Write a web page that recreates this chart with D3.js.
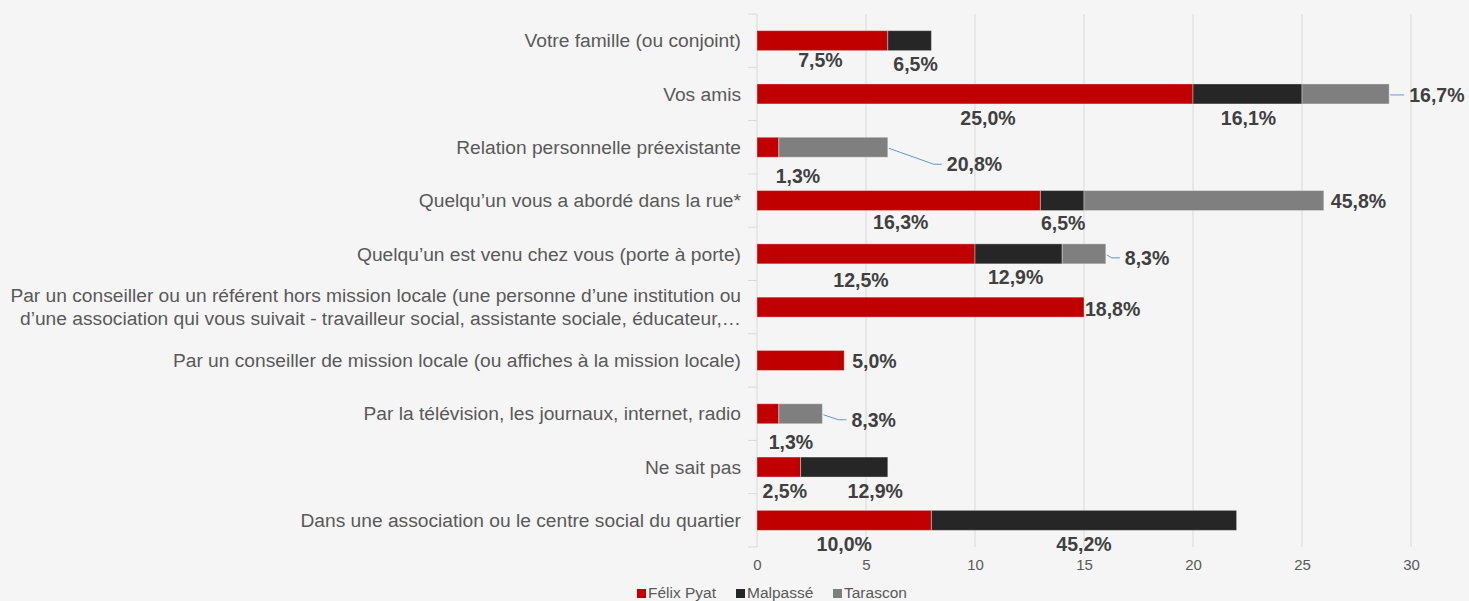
<!DOCTYPE html>
<html>
<head>
<meta charset="utf-8">
<script src="https://cdn.jsdelivr.net/npm/d3@7"></script>
<style>
  body { margin: 0; background: #f5f5f5; }
  svg { display: block; font-family: "Liberation Sans", Arial, sans-serif; }
</style>
</head>
<body>
<div id="chart"></div>
<script>
// data (counts on x axis, labels are % of each district)
var categories = [
    "Votre famille (ou conjoint)",
    "Vos amis",
    "Relation personnelle préexistante",
    "Quelqu’un vous a abordé dans la rue*",
    "Quelqu’un est venu chez vous (porte à porte)",
    "Par un conseiller ou un référent hors mission locale (une personne d’une institution ou|d’une association qui vous suivait - travailleur social, assistante sociale, éducateur,…",
    "Par un conseiller de mission locale (ou affiches à la mission locale)",
    "Par la télévision, les journaux, internet, radio",
    "Ne sait pas",
    "Dans une association ou le centre social du quartier"
];
var seriesNames = ["Félix Pyat", "Malpassé", "Tarascon"];
var felixPyat = [6, 20, 1, 13, 10, 15, 4, 1, 2, 8];
var malpasse  = [2, 5, 0, 2, 4, 0, 0, 0, 4, 14];
var tarascon  = [0, 4, 5, 11, 2, 0, 0, 2, 0, 0];
var felixPct    = ["7,5%", "25,0%", "1,3%", "16,3%", "12,5%", "18,8%", "5,0%", "1,3%", "2,5%", "10,0%"];
var malpassePct = ["6,5%", "16,1%", "", "6,5%", "12,9%", "", "", "", "12,9%", "45,2%"];
var tarasconPct = ["", "16,7%", "20,8%", "45,8%", "8,3%", "", "", "8,3%", "", ""];
var xTicks = [0, 5, 10, 15, 20, 25, 30];

var colors = ["#c00000", "#262626", "#7f7f7f"];

// label placement: [row, series, mode, dx, dy]
// "c" = relative to segment centre, "e" = right of bar end, "l" = leader line
var labelLayout = [
    [0, 0, "c", -2, 20], [0, 1, "c", 6, 24],
    [1, 0, "c", 13, 24], [1, 1, "c", 1, 24], [1, 2, "l", 20, 1],
    [2, 0, "c", 30, 29], [2, 2, "l", 59, 17],
    [3, 0, "c", 2, 22], [3, 1, "c", 1, 23], [3, 2, "e", 7, 1],
    [4, 0, "c", -5, 26], [4, 1, "c", -3, 23], [4, 2, "l", 19, 4],
    [5, 0, "e", 1, 2],
    [6, 0, "e", 8, 1],
    [7, 0, "c", 23, 28], [7, 2, "l", 29, 6],
    [8, 0, "c", 6, 24], [8, 1, "c", 31, 24],
    [9, 0, "c", 0, 24], [9, 1, "c", 0, 24]
];

var width = 1469;
var height = 601;
var plotLeft = 757, plotRight = 1411, plotTop = 14, plotBottom = 547;

var svg = d3.select("#chart")
    .append("svg")
    .attr("width", width)
    .attr("height", height);

var x = d3.scaleLinear().domain([0, 30]).range([plotLeft, plotRight]);
var y = d3.scaleBand().domain(d3.range(categories.length))
    .range([plotTop, plotBottom])
    .paddingInner(0.625)
    .paddingOuter(0.3125);
var step = y.step();

// gridlines
svg.append("g").selectAll("line")
    .data(xTicks.slice(1))
    .enter()
    .append("line")
    .attr("x1", function (d) { return x(d); })
    .attr("x2", function (d) { return x(d); })
    .attr("y1", plotTop)
    .attr("y2", plotBottom)
    .attr("stroke", "#d9d9d9")
    .attr("stroke-width", 1);

// left axis with ticks between categories
svg.append("line")
    .attr("x1", plotLeft).attr("x2", plotLeft)
    .attr("y1", plotTop).attr("y2", plotBottom)
    .attr("stroke", "#d9d9d9");
svg.append("g").selectAll("line")
    .data(d3.range(categories.length + 1))
    .enter()
    .append("line")
    .attr("x1", plotLeft - 9).attr("x2", plotLeft)
    .attr("y1", function (d) { return plotTop + d * step; })
    .attr("y2", function (d) { return plotTop + d * step; })
    .attr("stroke", "#d9d9d9");

// x axis labels
var xAxis = svg.append("g")
    .attr("transform", "translate(0," + plotBottom + ")")
    .call(d3.axisBottom(x).tickValues(xTicks).tickSize(0).tickPadding(12));
xAxis.select(".domain").remove();
xAxis.selectAll("text")
    .attr("font-family", "Liberation Sans, Arial, sans-serif")
    .attr("font-size", "15px")
    .attr("fill", "#595959");

// category labels
svg.append("g").selectAll("text")
    .data(categories)
    .enter()
    .append("text")
    .attr("text-anchor", "end")
    .attr("font-size", "19.2px")
    .attr("fill", "#595959")
    .each(function (d, i) {
        var lines = d.split("|");
        var cy = y(i) + y.bandwidth() / 2;
        var sel = d3.select(this);
        lines.forEach(function (t, j) {
            sel.append("tspan")
                .attr("x", plotLeft - 16)
                .attr("y", cy + (j - (lines.length - 1) / 2) * 23)
                .attr("dy", "0.35em")
                .text(t);
        });
    });

// stacked bars
var table = categories.map(function (c, i) {
    return { i: i, "Félix Pyat": felixPyat[i], "Malpassé": malpasse[i], "Tarascon": tarascon[i] };
});
var stacked = d3.stack().keys(seriesNames)(table);

svg.append("g").selectAll("g")
    .data(stacked)
    .enter()
    .append("g")
    .attr("fill", function (d, k) { return colors[k]; })
    .selectAll("rect")
    .data(function (d) { return d.filter(function (s) { return s[1] > s[0]; }); })
    .enter()
    .append("rect")
    .attr("x", function (d) { return x(d[0]); })
    .attr("width", function (d) { return x(d[1]) - x(d[0]); })
    .attr("y", function (d) { return y(d.data.i); })
    .attr("height", y.bandwidth())
    .attr("stroke", "rgba(255,255,255,0.35)")
    .attr("stroke-width", 1);

// data labels
var pcts = [felixPct, malpassePct, tarasconPct];
var labels = svg.append("g");
labelLayout.forEach(function (l) {
    var row = l[0], k = l[1], mode = l[2], dx = l[3], dy = l[4];
    var seg = stacked[k][row];
    var cy = y(row) + y.bandwidth() / 2;
    var tx, anchor = "middle";
    if (mode == "c") {
        tx = (x(seg[0]) + x(seg[1])) / 2 + dx;
    } else {
        var endX = x(seg[1]);
        tx = endX + dx;
        anchor = "start";
        if (mode == "l") {
            var lx = tx - 5;
            labels.append("path")
                .attr("d", d3.line()([[endX + 1, cy + 1], [lx - 8, cy + dy], [lx, cy + dy]]))
                .attr("fill", "none")
                .attr("stroke", "#5b9bd5")
                .attr("stroke-width", 1);
        }
    }
    labels.append("text")
        .attr("x", tx)
        .attr("y", cy + dy)
        .attr("dy", "0.35em")
        .attr("text-anchor", anchor)
        .attr("font-size", "19.5px")
        .attr("font-weight", 700)
        .attr("fill", "#404040")
        .text(pcts[k][row]);
});

// legend
var legend = svg.append("g")
    .attr("transform", "translate(637,593)");
var legendX = [0, 99, 196];
seriesNames.forEach(function (n, k) {
    var g = legend.append("g").attr("transform", "translate(" + legendX[k] + ",0)");
    g.append("rect")
        .attr("x", 0).attr("y", -4)
        .attr("width", 9).attr("height", 9)
        .attr("fill", colors[k]);
    g.append("text")
        .attr("x", 11)
        .attr("y", 0)
        .attr("dy", "0.35em")
        .attr("font-size", "15.5px")
        .attr("fill", "#595959")
        .text(n);
});
</script>
</body>
</html>
